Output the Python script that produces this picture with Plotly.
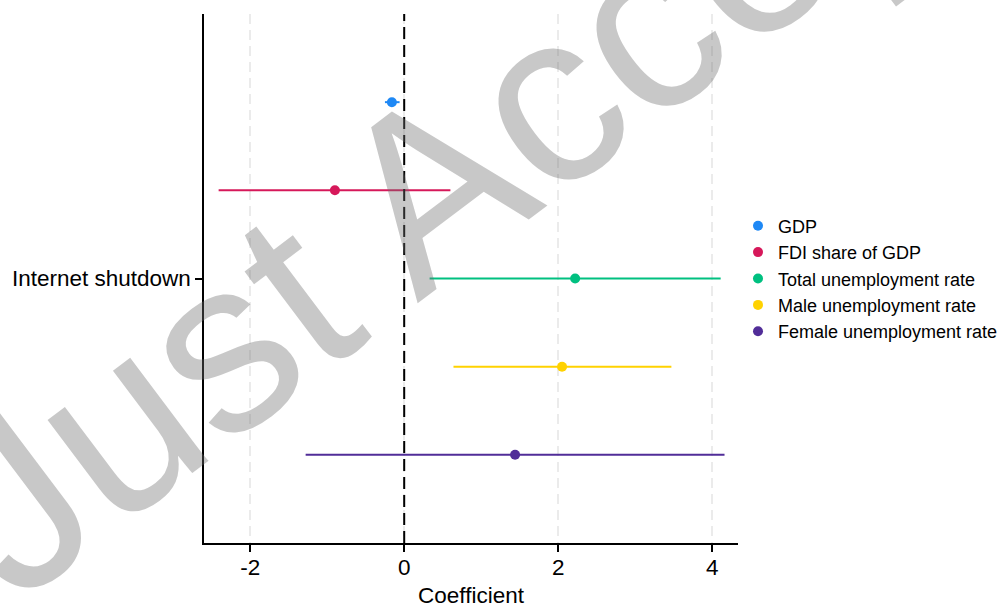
import plotly.graph_objects as go

# ---- data ----
category = "Internet shutdown"
series = ["GDP", "FDI share of GDP", "Total unemployment rate",
          "Male unemployment rate", "Female unemployment rate"]
estimate = [-0.16, -0.90, 2.22, 2.05, 1.44]
ci_low = [-0.25, -2.41, 0.33, 0.64, -1.28]
ci_high = [-0.06, 0.60, 4.11, 3.47, 4.16]
colors = ["#1E88F5", "#D6185A", "#00C080", "#FFD200", "#512D98"]
x_ticks = [-2, 0, 2, 4]

FONT = "Liberation Sans, Arial, sans-serif"

fig = go.Figure()
n = len(series)
for i, name in enumerate(series):
    offset = (n - 1) / 2 - i  # dodge position (top to bottom)
    fig.add_trace(go.Scatter(
        x=[estimate[i]], y=[offset], mode="markers", name=name,
        marker=dict(color=colors[i], size=10),
        error_x=dict(type="data", symmetric=False,
                     array=[ci_high[i] - estimate[i]],
                     arrayminus=[estimate[i] - ci_low[i]],
                     color=colors[i], thickness=2, width=0),
    ))

fig.add_vline(x=0, line=dict(color="black", width=2, dash="12px,6px"), layer="above")

fig.add_annotation(
    text="Just Accepted", xref="paper", yref="paper", x=0.69, y=0.876,
    xanchor="center", yanchor="middle",
    showarrow=False, textangle=-37,
    font=dict(family=FONT, size=245, color="rgba(110,110,110,0.38)"),
)

fig.update_layout(
    width=998, height=608,
    margin=dict(l=204, r=260, t=14, b=65, autoexpand=False),
    paper_bgcolor="white", plot_bgcolor="white",
    font=dict(family=FONT, color="black"),
    showlegend=True,
    legend=dict(x=1.0, y=0.5, xanchor="left", yanchor="middle",
                font=dict(size=18, family=FONT, color="black"),
                bgcolor="rgba(0,0,0,0)"),
    xaxis=dict(range=[-2.6, 4.335], tickvals=x_ticks,
               ticktext=[str(v) for v in x_ticks],
               showgrid=True, gridcolor="#EBEBEB", gridwidth=1.5, griddash="10px,6px",
               zeroline=False, showline=True, linecolor="black", linewidth=1.5,
               ticks="outside", ticklen=7, tickwidth=1.5, tickcolor="black",
               ticklabelstandoff=-4,
               tickfont=dict(size=22.5),
               title=dict(text="Coefficient", font=dict(size=22.5), standoff=13)),
    yaxis=dict(range=[-3, 3], tickvals=[0], ticktext=[category],
               showgrid=False, zeroline=False, showline=True, linecolor="black",
               linewidth=1.5, ticks="outside", ticklen=7, tickwidth=1.5, tickcolor="black",
               tickfont=dict(size=22.5)),
)

fig.write_html("out.html")
